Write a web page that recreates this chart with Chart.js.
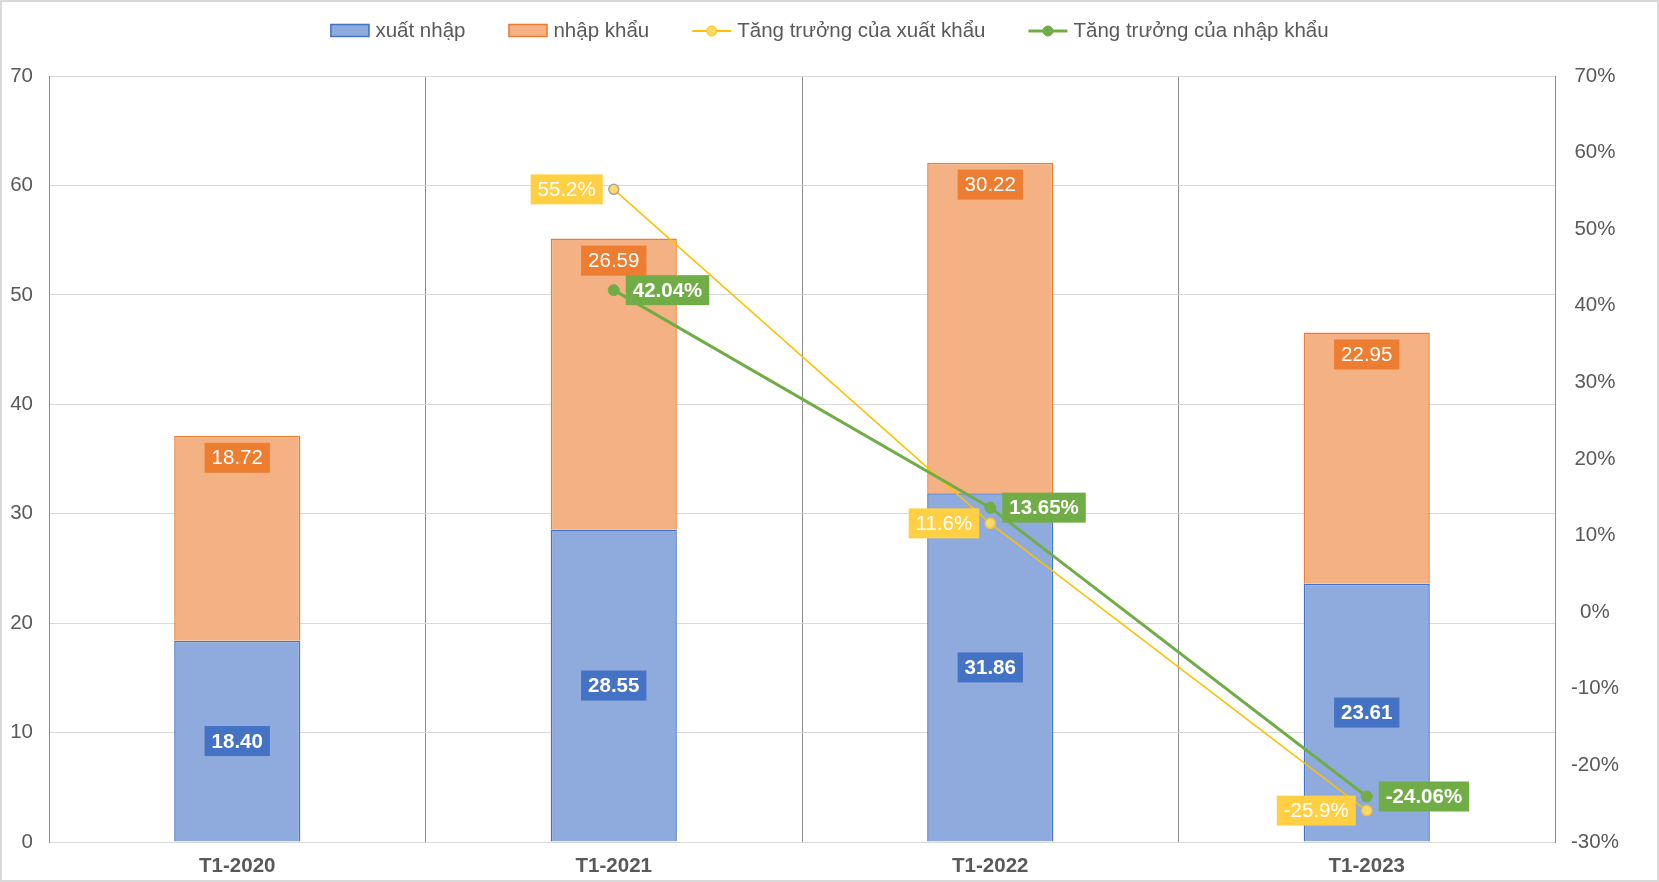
<!DOCTYPE html>
<html>
<head>
<meta charset="utf-8">
<script src="https://cdn.jsdelivr.net/npm/chart.js@4.4.1/dist/chart.umd.min.js"></script>
<style>
  html, body { margin: 0; padding: 0; background: #fff; }
  #wrap { width: 1659px; height: 882px; position: relative; }
</style>
</head>
<body>
<div id="wrap"><canvas id="chart"></canvas></div>
<script>
const categories = ['T1-2020', 'T1-2021', 'T1-2022', 'T1-2023'];
const xuatNhap = [18.40, 28.55, 31.86, 23.61];
const nhapKhau = [18.72, 26.59, 30.22, 22.95];
const tangTruongXK = [null, 55.2, 11.6, -25.9];
const tangTruongNK = [null, 42.04, 13.65, -24.06];

const FONT = "'Liberation Sans', Arial, sans-serif";

// nhãn dữ liệu (giống data labels của Excel)
const labelPlugin = {
  id: 'labels',
  afterDatasetsDraw(chart) {
    const ctx = chart.ctx;
    const box = (text, cx, cy, bg, bold, align) => {
      ctx.font = (bold ? 'bold ' : '') + '20.5px ' + FONT;
      const w = ctx.measureText(text).width + 14, h = 30;
      let x = cx - w / 2;
      if (align === 'left') x = cx - w;
      if (align === 'right') x = cx;
      ctx.fillStyle = bg;
      ctx.fillRect(x, cy - h / 2, w, h);
      ctx.fillStyle = '#fff';
      ctx.textAlign = 'center';
      ctx.textBaseline = 'middle';
      ctx.fillText(text, x + w / 2, cy + 1);
    };
    ctx.save();
    chart.getDatasetMeta(0).data.forEach((el, i) => {
      box(xuatNhap[i].toFixed(2), el.x, (el.y + el.base) / 2, '#4472C4', true);
    });
    chart.getDatasetMeta(1).data.forEach((el, i) => {
      box(nhapKhau[i].toFixed(2), el.x, el.y + 22, '#ED7D31', false);
    });
    chart.getDatasetMeta(2).data.forEach((el, i) => {
      if (tangTruongXK[i] == null) return;
      box(tangTruongXK[i].toFixed(1) + '%', el.x - 11, el.y, '#FFD043', false, 'left');
    });
    chart.getDatasetMeta(3).data.forEach((el, i) => {
      if (tangTruongNK[i] == null) return;
      box(tangTruongNK[i].toFixed(2) + '%', el.x + 12, el.y, '#70AD47', true, 'right');
    });
    ctx.restore();
  }
};

// chú giải và khung ngoài
const frame = {
  id: 'frame',
  beforeDraw(chart) {
    const ctx = chart.ctx;
    ctx.save();
    ctx.fillStyle = '#fff';
    ctx.fillRect(0, 0, chart.width, chart.height);
    ctx.restore();
  },
  afterDraw(chart) {
    const ctx = chart.ctx;
    ctx.save();
    ctx.strokeStyle = '#D9D9D9';
    ctx.lineWidth = 2;
    ctx.strokeRect(1, 1, chart.width - 2, chart.height - 2);

    ctx.font = '20.5px ' + FONT;
    const items = chart.data.datasets.map(d => ({ ds: d, tw: ctx.measureText(d.label).width }));
    const sym = 39, gap = 6, spacing = 43;
    let total = items.reduce((s, it) => s + sym + gap + it.tw, 0) + spacing * (items.length - 1);
    let x = (chart.width - total) / 2;
    const cy = 31;
    items.forEach(it => {
      const d = it.ds;
      if (d.type === 'line') {
        ctx.strokeStyle = d.borderColor;
        ctx.lineWidth = Math.max(d.borderWidth, 2);
        ctx.beginPath();
        ctx.moveTo(x, cy);
        ctx.lineTo(x + sym, cy);
        ctx.stroke();
        ctx.beginPath();
        ctx.arc(x + sym / 2, cy, 5, 0, Math.PI * 2);
        ctx.fillStyle = d.legendPoint;
        ctx.fill();
        ctx.lineWidth = 1;
        ctx.strokeStyle = d.borderColor;
        ctx.stroke();
      } else {
        ctx.fillStyle = d.backgroundColor;
        ctx.fillRect(x, cy - 7, sym, 13);
        ctx.strokeStyle = d.borderColor;
        ctx.lineWidth = 1.5;
        ctx.strokeRect(x + 0.5, cy - 6.5, sym - 1, 12);
      }
      ctx.fillStyle = '#595959';
      ctx.textAlign = 'left';
      ctx.textBaseline = 'middle';
      ctx.fillText(d.label, x + sym + gap, cy);
      x += sym + gap + it.tw + spacing;
    });
    ctx.restore();
  }
};

new Chart(document.getElementById('chart'), {
  type: 'bar',
  data: {
    labels: categories,
    datasets: [
      { label: 'xuất nhập', data: xuatNhap, backgroundColor: '#8FAADC', borderColor: '#4472C4', borderWidth: 1.5,
        stack: 's', yAxisID: 'y', order: 2, categoryPercentage: 1, barPercentage: 0.335 },
      { label: 'nhập khẩu', data: nhapKhau, backgroundColor: '#F4B183', borderColor: '#ED7D31', borderWidth: 1.5,
        stack: 's', yAxisID: 'y', order: 2, categoryPercentage: 1, barPercentage: 0.335 },
      { type: 'line', label: 'Tăng trưởng của xuất khẩu', data: tangTruongXK, yAxisID: 'y1', order: 1,
        borderColor: '#FFC000', borderWidth: 1.5, tension: 0, legendPoint: '#FFD966',
        pointRadius: 5, pointBackgroundColor: '#FFD966',
        pointBorderColor: ['#A6A6A6', '#A6A6A6', '#F6C244', '#F6C244'], pointBorderWidth: 1.5 },
      { type: 'line', label: 'Tăng trưởng của nhập khẩu', data: tangTruongNK, yAxisID: 'y1', order: 0,
        borderColor: '#70AD47', borderWidth: 3, tension: 0, legendPoint: '#70AD47',
        pointRadius: 5.5, pointBackgroundColor: '#70AD47', pointBorderColor: '#70AD47', pointBorderWidth: 1 }
    ]
  },
  options: {
    responsive: true,
    maintainAspectRatio: false,
    animation: false,
    layout: { padding: { top: 76, left: 0, right: 0, bottom: 0 } },
    plugins: { legend: { display: false }, tooltip: { enabled: false } },
    scales: {
      x: {
        stacked: true,
        grid: { color: '#8C8C8C', drawTicks: false, offset: true },
        border: { color: '#D9D9D9' },
        ticks: { color: '#595959', font: { family: FONT, size: 20.5, weight: 'bold' }, padding: 12 },
        afterFit: s => { s.height = 40; }
      },
      y: {
        stacked: true, min: 0, max: 70,
        grid: { color: '#D9D9D9', drawTicks: false },
        border: { color: '#8C8C8C' },
        ticks: { stepSize: 10, color: '#595959', font: { family: FONT, size: 20.5 }, padding: 16 },
        afterFit: s => { s.width = 49; }
      },
      y1: {
        position: 'right', min: -30, max: 70,
        grid: { drawOnChartArea: false, drawTicks: false },
        border: { color: '#8C8C8C' },
        ticks: { stepSize: 10, color: '#595959', font: { family: FONT, size: 20.5 }, padding: 16,
          crossAlign: 'center', callback: v => v + '%' },
        afterFit: s => { s.width = 104; }
      }
    }
  },
  plugins: [labelPlugin, frame]
});
</script>
</body>
</html>
